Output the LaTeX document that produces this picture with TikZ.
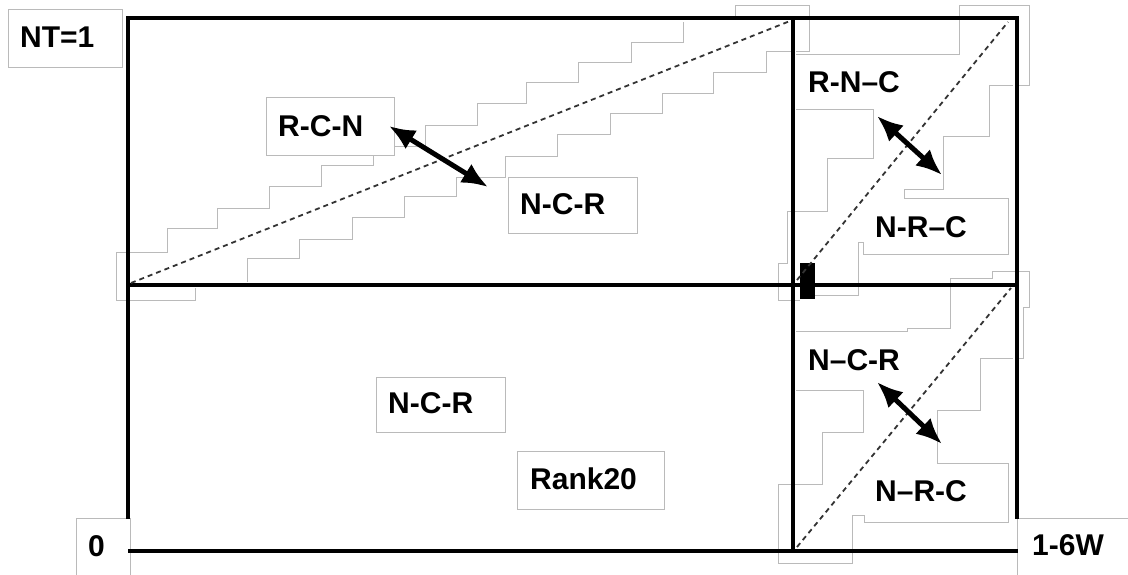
\documentclass[tikz,border=0pt]{standalone}
\usepackage{fontspec}
\setmainfont{Liberation Sans}
\usetikzlibrary{arrows.meta}
\begin{document}
\begin{tikzpicture}[x=1pt,y=-1pt,
  frameline/.style={line width=4.5pt,line cap=rect},
  outline/.style={draw=black!27,line width=1pt},
  diag/.style={draw=black!80,line width=1.8pt,dash pattern=on 5pt off 4pt},
  swaparrow/.style={line width=5pt,{Latex[length=26pt,width=22pt]}-{Latex[length=26pt,width=22pt]}},
  lbl/.style={anchor=west,inner sep=0pt,font=\bfseries\fontsize{30}{30}\selectfont}]
\useasboundingbox (0,0) rectangle (1128,575);

% ---- light gray outlines (label boxes and staircases)
\draw[outline] (8,10) rectangle (122,68);
\draw[outline] (76,575) -- (76,518) -- (130,518) -- (130,575);
\draw[outline] (1017,575) -- (1017,518) -- (1128,518);
\draw[outline] (517,451) rectangle (664,509);
\draw[outline] (376,377) rectangle (505,432);
\draw[outline] (266,98) rectangle (394,156);
\draw[outline] (508,178) rectangle (637,233);
% top-left upper staircase
\draw[outline] (195,288) -- (195,300) -- (116,300) -- (116,252) -- (167,252) -- (167,228)
  -- (217,228) -- (217,209) -- (269,209) -- (269,187) -- (321,187) -- (321,166)
  -- (373,166) -- (373,156);
\draw[outline] (394,147) -- (425,147) -- (425,126) -- (477,126) -- (477,104) -- (526,104)
  -- (526,83) -- (578,83) -- (578,63) -- (631,63) -- (631,43) -- (683,43) -- (683,22);
% top-left lower staircase
\draw[outline] (247,282) -- (247,258) -- (299,258) -- (299,239) -- (352,239) -- (352,218)
  -- (404,218) -- (404,197) -- (456,197) -- (456,178) -- (505,178) -- (505,157)
  -- (557,157) -- (557,135) -- (610,135) -- (610,114) -- (662,114) -- (662,94)
  -- (713,94) -- (713,73) -- (766,73) -- (766,52) -- (793,52);
% top corner box
\draw[outline] (735,17) -- (735,6) -- (809,6) -- (809,52) -- (796,52);
\draw[outline] (796,55) -- (959,55) -- (959,6) -- (1029,6) -- (1029,86) -- (1017,86);
% top-right quadrant
\draw[outline] (1013,86) -- (989,86) -- (989,137) -- (943,137) -- (943,190) -- (904,190)
  -- (904,199) -- (1008,199) -- (1008,254) -- (863,254) -- (863,242) -- (858,242)
  -- (858,295) -- (815,295);
\draw[outline] (796,110) -- (873,110) -- (873,159) -- (827,159) -- (827,212) -- (787,212)
  -- (787,263) -- (778,263) -- (778,300) -- (800,300);
% bottom-right quadrant
\draw[outline] (796,331) -- (907,331) -- (907,328) -- (950,328) -- (950,278) -- (992,278)
  -- (992,271) -- (1029,271) -- (1029,307) -- (1023,307) -- (1023,358) -- (1017,358);
\draw[outline] (1013,358) -- (980,358) -- (980,410) -- (937,410) -- (937,463) -- (1008,463)
  -- (1008,522) -- (864,522) -- (864,515) -- (852,515) -- (852,563) -- (778,563)
  -- (778,484) -- (822,484) -- (822,432) -- (863,432) -- (863,390) -- (796,390);

% ---- frame
\coordinate (TL) at (128,18);
\coordinate (TM) at (793,18);
\coordinate (TR) at (1017,18);
\coordinate (ML) at (128,285);
\coordinate (MM) at (793,285);
\coordinate (MR) at (1017,285);
\coordinate (LB) at (128,517);
\coordinate (RB) at (1017,517);
\coordinate (BL) at (130,551);
\coordinate (BM) at (793,551);
\coordinate (BR) at (1016,551);
\draw[frameline] (LB) -- (TL) -- (TR) -- (RB);
\draw[frameline] (ML) -- (MR);
\draw[frameline] (TM) -- (BM);
\draw[frameline] (BL) -- (BR);
\fill (800,263) rectangle (815,299);

% ---- dashed diagonals
\coordinate (d1a) at (131,283);
\coordinate (d1b) at (790,21);
\coordinate (d2a) at (797,280);
\coordinate (d2b) at (1008,22);
\coordinate (d3a) at (797,547);
\coordinate (d3b) at (1011,288);
\draw[diag] (d1a) -- (d1b);
\draw[diag] (d2a) -- (d2b);
\draw[diag] (d3a) -- (d3b);

% ---- double arrows
\coordinate (a1s) at (389,126);
\coordinate (a1e) at (488,187);
\coordinate (a2s) at (877,116);
\coordinate (a2e) at (942,175);
\coordinate (a3s) at (877,382);
\coordinate (a3e) at (942,444);
\draw[swaparrow] (a1s) -- (a1e);
\draw[swaparrow] (a2s) -- (a2e);
\draw[swaparrow] (a3s) -- (a3e);

% ---- labels
\node[lbl] (nt) at (20,37) {NT=1};
\node[lbl] (rcn) at (278,126) {R-C-N};
\node[lbl] (ncr1) at (520,204) {N-C-R};
\node[lbl] (rnc) at (808,82) {R-N–C};
\node[lbl] (nrc1) at (875,227) {N-R–C};
\node[lbl] (ncr2) at (808,360) {N–C-R};
\node[lbl] (nrc2) at (875,491) {N–R-C};
\node[lbl] (ncr3) at (388,403) {N-C-R};
\node[lbl] (rank) at (530,479) {Rank20};
\node[lbl] (zero) at (88,546) {0};
\node[lbl] (gw) at (1032,545) {1-6W};
\end{tikzpicture}
\end{document}
